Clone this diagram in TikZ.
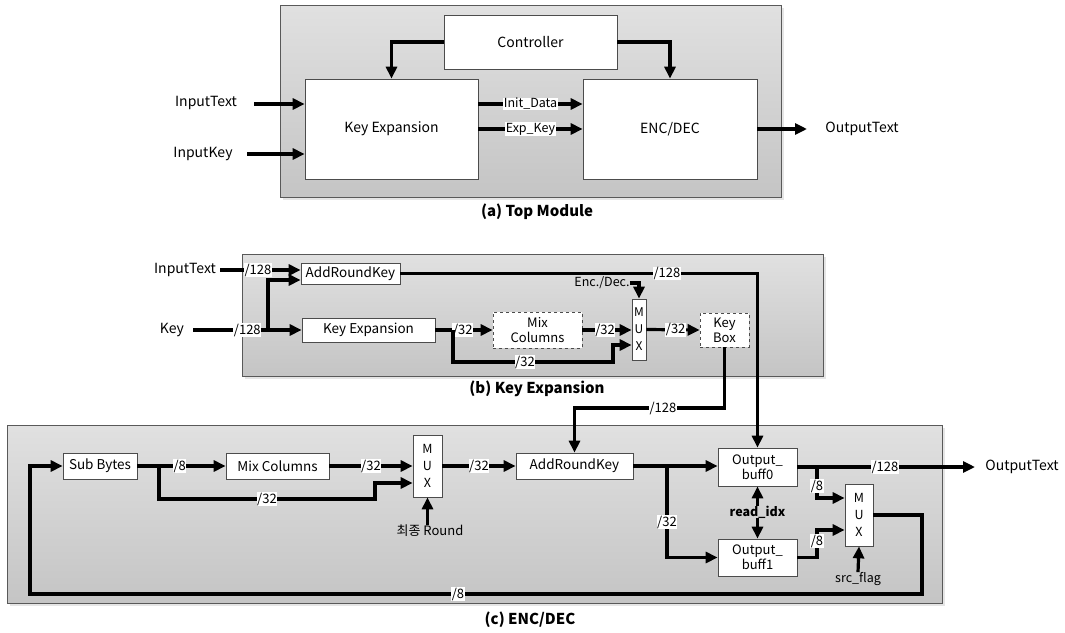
\documentclass[tikz,border=0pt]{standalone}
\usepackage{fontspec}
\setmainfont{Noto Sans CJK KR}
\usetikzlibrary{arrows.meta,shadows}
\newcommand\fsz[2]{\fontsize{#1}{#2}\selectfont}
\tikzset{
  panel/.style={draw=black!65, line width=0.8pt, top color=black!12, bottom color=black!23,
    drop shadow={shadow xshift=3pt, shadow yshift=-3pt, fill=black!10, opacity=1}, inner sep=0pt},
  box/.style={draw=black!70, line width=0.7pt, fill=white, inner sep=0pt, align=center},
  dbox/.style={box, dashed},
  arr/.style={line width=3.2pt, -{Triangle[length=12pt,width=11pt]}},
  bus/.style={fill=white, inner sep=0.6pt, font=\fsz{13}{14}},
  lbl/.style={inner sep=0pt, font=\fsz{14}{16}},
  captxt/.style={inner sep=0pt, font=\bfseries\fsz{15}{17}},
}
\begin{document}
\begin{tikzpicture}[x=1pt,y=-1pt]
\fill[white] (0,0) rectangle (1065,632);
\useasboundingbox (0,0) rectangle (1065,632);

% ---------------- panels
\node[panel, anchor=north west, minimum width=501, minimum height=192] (pa) at (280,5) {};
\node[panel, anchor=north west, minimum width=581, minimum height=122] (pb) at (242,254) {};
\node[panel, anchor=north west, minimum width=935, minimum height=178] (pc) at (7,425) {};

% ---------------- (a) Top Module
\node[box, minimum width=173, minimum height=54, font=\fsz{14}{16}] (ctrl) at (530.5,42) {Controller};
\node[box, minimum width=173, minimum height=100, font=\fsz{14}{16}] (ke) at (391.5,129) {Key Expansion};
\node[box, minimum width=174, minimum height=100, font=\fsz{14}{16}] (enc) at (670,129) {ENC/DEC};
\node[lbl] (itxt) at (206,103) {InputText};
\node[lbl] (ikey) at (203,154) {InputKey};
\node[lbl] (otxt) at (862,129) {OutputText};
\coordinate (itxtS) at (254,104);
\coordinate (ikeyS) at (247,154);
\coordinate (otxtE) at (807,129);
\draw[arr] (itxtS) -- (itxtS -| ke.west);
\draw[arr] (ikeyS) -- (ikeyS -| ke.west);
\draw[arr] (ctrl.west) -| (ke.north);
\draw[arr] (ctrl.east) -| (enc.north);
\draw[arr] (ke.east |- itxtS) -- (enc.west |- itxtS) node[bus, pos=0.5, font=\fsz{12.5}{14}] (idata) {Init\_Data};
\draw[arr] (ke.east) -- (enc.west) node[bus, pos=0.5, font=\fsz{12.5}{14}] (ekey) {Exp\_Key};
\draw[arr] (enc.east) -- (otxtE);
\node[captxt] (capa) at (537,212) {(a) Top Module};

% ---------------- (b) Key Expansion
\node[box, minimum width=99, minimum height=21, font=\fsz{13.5}{15}] (ark1) at (350.5,273.5) {AddRoundKey};
\node[box, minimum width=133, minimum height=24, font=\fsz{13.5}{15}] (kexp) at (368.5,330) {Key Expansion};
\node[dbox, minimum width=89, minimum height=36, font=\fsz{13}{15}] (mc1) at (537.5,330) {Mix\\Columns};
\node[box, minimum width=14, minimum height=61, font=\fsz{12}{17}] (mux1) at (639,329.5) {M\\U\\X};
\node[dbox, minimum width=49, minimum height=34, font=\fsz{13}{15}] (kbox) at (724.5,330) {Key\\Box};
\node[lbl] (itxtb) at (185,270) {InputText};
\node[lbl] (keyb) at (172,330) {Key};
\node[lbl, font=\fsz{12.5}{14}] (encdec) at (602,283) {Enc./Dec.};

\coordinate (itb) at (220,270);
\draw[arr] (itb) -- (itb -| ark1.west) node[bus, pos=0.47] (b1) {/128};
\coordinate (kb) at (193,330);
\draw[arr] (kb) -- (kexp.west) node[bus, pos=0.5] (b2) {/128};
\coordinate (kbr) at (268,330);
\coordinate (kb2) at (268,280);
\draw[arr] (kbr) -- (kb2) -- (kb2 -| ark1.west);
\draw[arr] (kexp.east) -- (mc1.west) node[bus, pos=0.48] (b3) {/32};
\coordinate (kx1) at (453,330);
\coordinate (kx2) at (453,362);
\coordinate (kx3) at (613,362);
\coordinate (kx4) at (613,345);
\draw[arr] (kx1) -- (kx2) -- (kx3) -- (kx4) -- (kx4 -| mux1.west);
\node[bus] (b4) at (525,362) {/32};
\draw[arr] (mc1.east) -- (mc1.east -| mux1.west) node[bus, pos=0.46] (b5) {/32};
\draw[arr] (mux1.east) -- (kbox.west) node[bus, pos=0.55] (b6) {/32};
\draw[arr] (encdec.east) -| (mux1.north);
\node[captxt] (capb) at (537,389) {(b) Key Expansion};

% ---------------- (c) ENC/DEC
\node[box, minimum width=74, minimum height=26, font=\fsz{13.5}{15}] (sub) at (100,466) {Sub Bytes};
\node[box, minimum width=103, minimum height=26, font=\fsz{13.5}{15}] (mc2) at (277.5,466) {Mix Columns};
\node[box, minimum width=29, minimum height=62, font=\fsz{12.5}{17}] (mux2) at (427.5,466) {M\\U\\X};
\node[box, minimum width=117, minimum height=26, font=\fsz{13.5}{15}] (ark2) at (574.5,466) {AddRoundKey};
\node[box, minimum width=79, minimum height=38, font=\fsz{13}{15}] (buf0) at (757.5,467) {Output\_\\buff0};
\node[box, minimum width=79, minimum height=37, font=\fsz{13}{15}] (buf1) at (757.5,557.5) {Output\_\\buff1};
\node[box, minimum width=28, minimum height=62, font=\fsz{12.5}{17}] (mux3) at (859,515) {M\\U\\X};
\node[lbl, font=\fsz{13}{14}] (rnd) at (430,531) {최종 Round};
\node[lbl, font=\bfseries\fsz{12.5}{14}] (ridx) at (757.5,512) {read\_idx};
\node[lbl, font=\fsz{12.5}{14}] (sflag) at (858,579) {src\_flag};
\node[lbl] (otxtc) at (1022,467) {OutputText};

% key box -> AddRoundKey (c)
\coordinate (kby) at (0,408);
\draw[arr] (kbox.south) -- (kbox.south |- kby) -- (ark2.north |- kby) -- (ark2.north);
\node[bus] (b7) at (663,408) {/128};
% AddRoundKey (b) -> Output_buff0
\draw[arr] (ark1.east) -| (buf0.north);
\node[bus] (b8) at (667,273.5) {/128};

\draw[arr] (sub.east) -- (mc2.west) node[bus, pos=0.48] (c1) {/8};
\coordinate (s1) at (159,466);
\coordinate (s2) at (159,499);
\coordinate (s3) at (375,499);
\coordinate (s4) at (375,483);
\draw[arr] (s1) -- (s2) -- (s3) -- (s4) -- (s4 -| mux2.west);
\node[bus] (c2) at (267,499) {/32};
\draw[arr] (mc2.east) -- (mc2.east -| mux2.west) node[bus, pos=0.5] (c3) {/32};
\draw[arr] (rnd.north -| mux2.south) -- (mux2.south);
\draw[arr] (mux2.east) -- (ark2.west) node[bus, pos=0.5] (c4) {/32};
\draw[arr] (ark2.east) -- (ark2.east -| buf0.west);
\coordinate (a1) at (667,466);
\coordinate (a2) at (667,557.5);
\draw[arr] (a1) -- (a2) -- (buf1.west);
\node[bus] (c5) at (667,522) {/32};
\draw[arr] (ridx.north) -- (buf0.south);
\draw[arr] (ridx.south) -- (buf1.north);
\coordinate (oE) at (975,467);
\draw[arr] (buf0.east) -- (oE);
\node[bus] (c6) at (885,467) {/128};
\coordinate (o1) at (817,467);
\coordinate (o2) at (817,498);
\draw[arr] (o1) -- (o2) -- (o2 -| mux3.west);
\node[bus] (c7) at (817,486) {/8};
\coordinate (o3) at (817,557.5);
\coordinate (o4) at (817,530);
\draw[arr] (buf1.east) -- (o3) -- (o4) -- (o4 -| mux3.west);
\node[bus] (c8) at (817,541) {/8};
\draw[arr] (sflag.north) -- (mux3.south);
\coordinate (l1) at (922,594);
\coordinate (l2) at (30,594);
\draw[arr] (mux3.east) -| (l1) -- (l2) |- (sub.west);
\node[bus] (c9) at (458,594) {/8};
\node[captxt] (capc) at (530,620) {(c) ENC/DEC};
\end{tikzpicture}
\end{document}
